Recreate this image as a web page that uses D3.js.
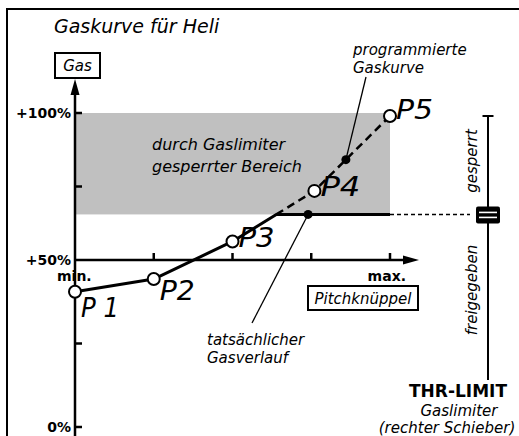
<!DOCTYPE html>
<html>
<head>
<meta charset="utf-8">
<script src="https://cdn.jsdelivr.net/npm/d3@7"></script>
<style>
  body { margin: 0; background: #fff; }
  svg { font-family: "DejaVu Sans", sans-serif; }
</style>
</head>
<body>
<div id="chart"></div>
<script>
// Curve points (pitch stick % -> gas %)
const pitchValues = [0, 25, 50, 76, 100];
const gasValues = [40.5, 44.3, 56.3, 73.5, 99];
const pointLabels = ["P 1", "P2", "P3", "P4", "P5"];
const gasLimit = 65.5;
const actualMarkPitch = 74;
const programmedMarkPitch = 86;
const pitchTicks = [25, 50, 75, 100];
const gasTicks = [0, 25, 50, 75, 100];
const gasTickLabels = ["0%", "", "+50%", "", "+100%"];

const width = 519, height = 436;

const svg = d3.select("#chart")
    .append("svg")
    .attr("width", width)
    .attr("height", height);

// Scales (gas axis is drawn with the 50% line as x axis)
const x = d3.scaleLinear().domain([0, 100]).range([75, 390]);
const y = d3.scaleLinear().domain([0, 50, 100]).range([427, 260, 113]);

// Outer frame (cut at right and bottom)
svg.append("path")
    .attr("d", "M7,436 V9 H519")
    .attr("fill", "none")
    .attr("stroke", "#000")
    .attr("stroke-width", 2);

// Title
svg.append("text")
    .attr("x", 54).attr("y", 33)
    .style("font-size", "19px")
    .style("font-style", "italic")
    .text("Gaskurve für Heli");

// Gray blocked area
svg.append("rect")
    .attr("x", x(0) + 1)
    .attr("y", y(100))
    .attr("width", x(100) - x(0) - 1)
    .attr("height", y(gasLimit) - y(100))
    .attr("fill", "#c0c0c0");

svg.append("text")
    .style("font-size", "16px")
    .style("font-style", "italic")
    .selectAll("tspan")
    .data(["durch Gaslimiter", "gesperrter Bereich"])
    .join("tspan")
    .attr("x", 152)
    .attr("y", (d, i) => 150 + i * 22)
    .text(d => d);

// Y axis
svg.append("line")
    .attr("x1", x(0)).attr("x2", x(0))
    .attr("y1", height).attr("y2", 92)
    .attr("stroke", "#000").attr("stroke-width", 2.5);
svg.append("path")
    .attr("d", `M${x(0)},79 L${x(0) - 4.5},95 L${x(0) + 4.5},95 Z`)
    .attr("fill", "#000");

svg.selectAll(".ytick")
    .data(gasTicks.filter(d => d !== 50))
    .join("line")
    .attr("x1", x(0)).attr("x2", x(0) + 7)
    .attr("y1", d => y(d)).attr("y2", d => y(d))
    .attr("stroke", "#000").attr("stroke-width", 2.5);

svg.selectAll(".ylabel")
    .data(gasTicks)
    .join("text")
    .attr("x", x(0) - 4)
    .attr("y", d => y(d) + 5)
    .attr("text-anchor", "end")
    .style("font-size", "14px")
    .style("font-weight", "bold")
    .text((d, i) => gasTickLabels[i]);

// Gas label box
svg.append("rect")
    .attr("x", 55).attr("y", 53).attr("width", 45).attr("height", 25)
    .attr("fill", "#fff").attr("stroke", "#000").attr("stroke-width", 2);
svg.append("text")
    .attr("x", 77.5).attr("y", 71)
    .attr("text-anchor", "middle")
    .style("font-size", "15px").style("font-style", "italic")
    .text("Gas");

// X axis at 50%
svg.append("line")
    .attr("x1", x(0)).attr("x2", 406)
    .attr("y1", y(50)).attr("y2", y(50))
    .attr("stroke", "#000").attr("stroke-width", 2.5);
svg.append("path")
    .attr("d", `M419,${y(50)} L403,${y(50) - 4.5} L403,${y(50) + 4.5} Z`)
    .attr("fill", "#000");
svg.selectAll(".xtick")
    .data(pitchTicks)
    .join("line")
    .attr("x1", d => x(d)).attr("x2", d => x(d))
    .attr("y1", y(50)).attr("y2", y(50) - 7)
    .attr("stroke", "#000").attr("stroke-width", 2.5);

svg.append("text")
    .attr("x", 57).attr("y", 281)
    .style("font-size", "14px").style("font-weight", "bold")
    .text("min.");
svg.append("text")
    .attr("x", 406).attr("y", 281)
    .attr("text-anchor", "end")
    .style("font-size", "14px").style("font-weight", "bold")
    .text("max.");

svg.append("rect")
    .attr("x", 308).attr("y", 286).attr("width", 110).attr("height", 24)
    .attr("fill", "#fff").attr("stroke", "#000").attr("stroke-width", 2);
svg.append("text")
    .attr("x", 363).attr("y", 303.5)
    .attr("text-anchor", "middle")
    .style("font-size", "15px").style("font-style", "italic")
    .text("Pitchknüppel");

// Curves
const pts = pitchValues.map((p, i) => ({ p, g: gasValues[i], label: pointLabels[i] }));

// where the programmed curve crosses the limit
let cross = null;
for (let i = 1; i < pts.length; i++) {
    const a = pts[i - 1], b = pts[i];
    if (a.g <= gasLimit && b.g > gasLimit) {
        const t = (gasLimit - a.g) / (b.g - a.g);
        cross = { p: a.p + t * (b.p - a.p), g: gasLimit };
        break;
    }
}

const line = d3.line().x(d => x(d.p)).y(d => y(d.g));

const programmed = [cross].concat(pts.filter(d => d.p > cross.p));
svg.append("path")
    .attr("d", line(programmed))
    .attr("fill", "none")
    .attr("stroke", "#000").attr("stroke-width", 2.5)
    .attr("stroke-dasharray", "8,5");

const actual = pts.filter(d => d.p < cross.p).concat([cross, { p: 100, g: gasLimit }]);
svg.append("path")
    .attr("d", line(actual))
    .attr("fill", "none")
    .attr("stroke", "#000").attr("stroke-width", 3)
    .attr("stroke-linejoin", "round");

// dotted continuation to the slider
svg.append("line")
    .attr("x1", x(100)).attr("x2", 470)
    .attr("y1", y(gasLimit)).attr("y2", y(gasLimit))
    .attr("stroke", "#000").attr("stroke-width", 1.5)
    .attr("stroke-dasharray", "4,3");

// interpolate programmed gas at a pitch
function gasAt(p) {
    for (let i = 1; i < pts.length; i++) {
        if (p <= pts[i].p) {
            const a = pts[i - 1], b = pts[i];
            return a.g + (p - a.p) / (b.p - a.p) * (b.g - a.g);
        }
    }
    return pts[pts.length - 1].g;
}

// leader lines
svg.append("line")
    .attr("x1", x(actualMarkPitch)).attr("y1", y(gasLimit))
    .attr("x2", 252).attr("y2", 323)
    .attr("stroke", "#000").attr("stroke-width", 1.3);
svg.append("line")
    .attr("x1", x(programmedMarkPitch)).attr("y1", y(gasAt(programmedMarkPitch)))
    .attr("x2", 366).attr("y2", 77)
    .attr("stroke", "#000").attr("stroke-width", 1.3);

svg.append("circle")
    .attr("cx", x(actualMarkPitch)).attr("cy", y(gasLimit)).attr("r", 4.5)
    .attr("fill", "#000");
svg.append("circle")
    .attr("cx", x(programmedMarkPitch)).attr("cy", y(gasAt(programmedMarkPitch))).attr("r", 4.5)
    .attr("fill", "#000");

// points
svg.selectAll(".pt")
    .data(pts)
    .join("circle")
    .attr("cx", d => x(d.p)).attr("cy", d => y(d.g)).attr("r", 6)
    .attr("fill", "#fff").attr("stroke", "#000").attr("stroke-width", 2);

// handwritten-ish point labels
const labelDy = [25, 21, 6, 5, 3];
const labelLen = [38, 35, 36, 40, 37];
svg.selectAll(".ptlabel")
    .data(pts)
    .join("text")
    .attr("x", d => x(d.p) + 6)
    .attr("y", (d, i) => y(d.g) + labelDy[i])
    .attr("textLength", (d, i) => labelLen[i])
    .attr("lengthAdjust", "spacingAndGlyphs")
    .style("font-family", "'DejaVu Sans', sans-serif")
    .style("font-size", "27px")
    .style("font-style", "italic")
    .text(d => d.label);

// annotations
svg.append("text")
    .style("font-size", "15px").style("font-style", "italic")
    .selectAll("tspan")
    .data(["programmierte", "Gaskurve"])
    .join("tspan")
    .attr("x", 353)
    .attr("y", (d, i) => 55 + i * 18)
    .text(d => d);

svg.append("text")
    .style("font-size", "15px").style("font-style", "italic")
    .selectAll("tspan")
    .data(["tatsächlicher", "Gasverlauf"])
    .join("tspan")
    .attr("x", 207)
    .attr("y", (d, i) => 345 + i * 18)
    .text(d => d);

// Slider (THR-LIMIT)
const sx = 488;
svg.append("line")
    .attr("x1", sx).attr("x2", sx).attr("y1", 116).attr("y2", 380)
    .attr("stroke", "#000").attr("stroke-width", 2);
svg.append("line")
    .attr("x1", sx - 5.5).attr("x2", sx + 5.5).attr("y1", 116).attr("y2", 116)
    .attr("stroke", "#000").attr("stroke-width", 2);
svg.append("rect")
    .attr("x", sx - 12).attr("y", y(gasLimit) - 8).attr("width", 24).attr("height", 17)
    .attr("rx", 2)
    .attr("fill", "#000");
[-2.5, 2.5].forEach(o => {
    svg.append("line")
        .attr("x1", sx - 9).attr("x2", sx + 9)
        .attr("y1", y(gasLimit) + 0.5 + o).attr("y2", y(gasLimit) + 0.5 + o)
        .attr("stroke", "#fff").attr("stroke-width", 1.6);
});

svg.append("text")
    .attr("transform", `translate(477,161) rotate(-90)`)
    .attr("text-anchor", "middle")
    .style("font-size", "15px").style("font-style", "italic")
    .text("gesperrt");
svg.append("text")
    .attr("transform", `translate(477,290) rotate(-90)`)
    .attr("text-anchor", "middle")
    .style("font-size", "15px").style("font-style", "italic")
    .text("freigegeben");

svg.append("text")
    .attr("x", 458).attr("y", 397)
    .attr("text-anchor", "middle")
    .style("font-size", "17px").style("font-weight", "bold")
    .text("THR-LIMIT");
svg.append("text")
    .attr("x", 459).attr("y", 416)
    .attr("text-anchor", "middle")
    .style("font-size", "15px").style("font-style", "italic")
    .text("Gaslimiter");
svg.append("text")
    .attr("x", 447).attr("y", 433)
    .attr("text-anchor", "middle")
    .style("font-size", "15px").style("font-style", "italic")
    .text("(rechter Schieber)");
</script>
</body>
</html>
